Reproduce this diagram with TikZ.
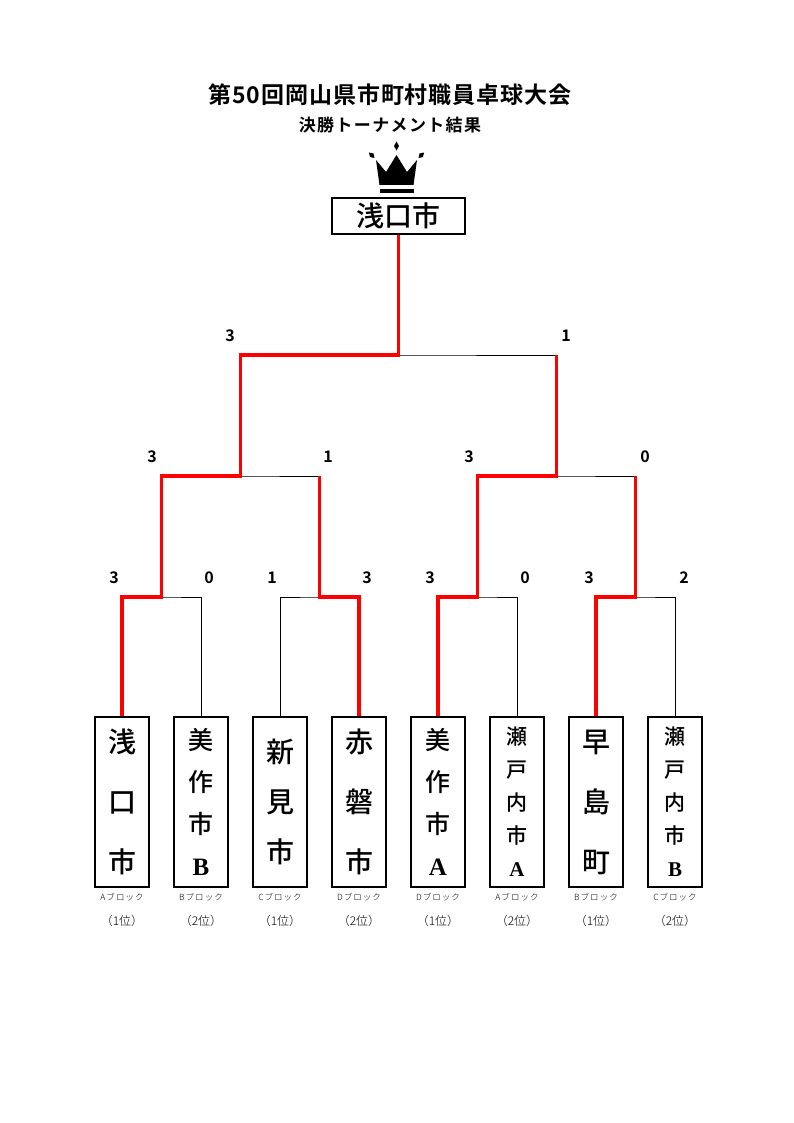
\documentclass[tikz,border=0pt]{standalone}
\usepackage{fontspec}
\newfontfamily\jpg{Noto Sans CJK JP}[BoldFont={Noto Sans CJK JP Bold}]
\newfontfamily\jpm{Noto Sans CJK JP Medium}
\newfontfamily\jpl{Noto Sans CJK JP Light}
\newfontfamily\serifb{Liberation Serif}
\begin{document}
\begin{tikzpicture}[x=1pt,y=-1pt,
  namebox/.style={draw, line width=1.3pt, minimum width=54pt, minimum height=170pt, inner sep=0pt, align=center},
  win/.style={draw=red, line width=3.5pt, line join=miter},
  lose/.style={draw=black, line width=0.9pt},
  score/.style={font=\jpg\bfseries\fontsize{16}{16}\selectfont, inner sep=0pt},
  blk/.style={font=\jpl\fontsize{8.5}{8.5}\selectfont\addfontfeatures{LetterSpace=12}, inner sep=0pt},
  rank/.style={font=\jpl\fontsize{12}{12}\selectfont, inner sep=0pt}]
\useasboundingbox (0,0) rectangle (794,1123);

% title
\node[font=\jpg\bfseries\fontsize{23}{23}\selectfont\addfontfeatures{LetterSpace=4}, inner sep=0pt] (title) at (390,95) {第50回岡山県市町村職員卓球大会};
\node[font=\jpg\bfseries\fontsize{17}{17}\selectfont\addfontfeatures{LetterSpace=8}, inner sep=0pt] (subtitle) at (390,125) {決勝トーナメント結果};

% crown
\fill (396.5,141.5) -- (399,146) -- (396.5,150.5) -- (394,146) -- cycle;
\fill (369,152.5) -- (373.5,153.5) -- (374.5,158) -- (370,157) -- cycle;
\fill (424,152.5) -- (419.5,153.5) -- (418.5,158) -- (423,157) -- cycle;
\fill (376,160) -- (386,172) -- (396.5,155) -- (407,172) -- (417,160) -- (413.5,185) -- (379.5,185) -- cycle;
\fill (379.5,189) rectangle (413.5,193.5);

% champion
\node[draw, line width=2pt, minimum width=133pt, minimum height=36pt, inner sep=0pt,
  font=\jpm\fontsize{28}{28}\selectfont] (champ) at (398.5,216) {浅口市};

% team boxes
\node[namebox, font=\jpm\fontsize{28}{60}\selectfont] (b1) at (122,802) {浅\\口\\市};
\node[namebox, font=\jpm\fontsize{25}{42}\selectfont] (b2) at (201,802) {美\\作\\市\\{\serifb\bfseries B}};
\node[namebox, font=\jpm\fontsize{28}{50}\selectfont] (b3) at (280,802) {新\\見\\市};
\node[namebox, font=\jpm\fontsize{28}{60}\selectfont] (b4) at (359,802) {赤\\磐\\市};
\node[namebox, font=\jpm\fontsize{25}{42}\selectfont] (b5) at (438,802) {美\\作\\市\\{\serifb\bfseries A}};
\node[namebox, font=\jpm\fontsize{21}{33}\selectfont] (b6) at (517,802) {瀬\\戸\\内\\市\\{\serifb\bfseries A}};
\node[namebox, font=\jpm\fontsize{28}{60}\selectfont] (b7) at (596,802) {早\\島\\町};
\node[namebox, font=\jpm\fontsize{21}{33}\selectfont] (b8) at (675,802) {瀬\\戸\\内\\市\\{\serifb\bfseries B}};

% block labels
\foreach \i/\x/\bl/\r in {1/122/A/1,2/201/B/2,3/280/C/1,4/359/D/2,5/438/D/1,6/517/A/2,7/596/B/1,8/675/C/2}{
  \node[blk] (blk\i) at (\x,897) {\bl ブロック};
  \node[rank] (rank\i) at (\x,921) {（\r 位）};
}

% junctions
\coordinate (r1a) at (161.5,597);
\coordinate (r1b) at (319.5,597);
\coordinate (r1c) at (477.5,597);
\coordinate (r1d) at (635.5,597);
\coordinate (r2a) at (240.5,476);
\coordinate (r2b) at (556.5,476);
\coordinate (r3) at (398.5,355);

% black lines
\draw[lose] (b1.north) |- (r1a) -| (b2.north);
\draw[lose] (b3.north) |- (r1b) -| (b4.north);
\draw[lose] (b5.north) |- (r1c) -| (b6.north);
\draw[lose] (b7.north) |- (r1d) -| (b8.north);
\draw[lose] (r1a) |- (r2a) -| (r1b);
\draw[lose] (r1c) |- (r2b) -| (r1d);
\draw[lose] (r2a) |- (r3) -| (r2b);
\draw[lose] (r3) -- (champ.south);

% winners
\draw[win] (b1.north) |- (r1a) |- (r2a) |- (r3) -- (champ.south);
\draw[win] (b4.north) |- (r1b) -- (r1b |- r2a);
\draw[win] (b5.north) |- (r1c) |- (r2b) -- (r2b |- r3);
\draw[win] (b7.north) |- (r1d) -- (r1d |- r2b);

% scores
\node[score] (s11) at (114,578) {3};
\node[score] (s12) at (209,578) {0};
\node[score] (s13) at (272,578) {1};
\node[score] (s14) at (367,578) {3};
\node[score] (s15) at (430,578) {3};
\node[score] (s16) at (525,578) {0};
\node[score] (s17) at (589,578) {3};
\node[score] (s18) at (684,578) {2};
\node[score] (s21) at (152,457) {3};
\node[score] (s22) at (328,457) {1};
\node[score] (s23) at (469,457) {3};
\node[score] (s24) at (645,457) {0};
\node[score] (s31) at (230,336) {3};
\node[score] (s32) at (566,336) {1};
\end{tikzpicture}
\end{document}
